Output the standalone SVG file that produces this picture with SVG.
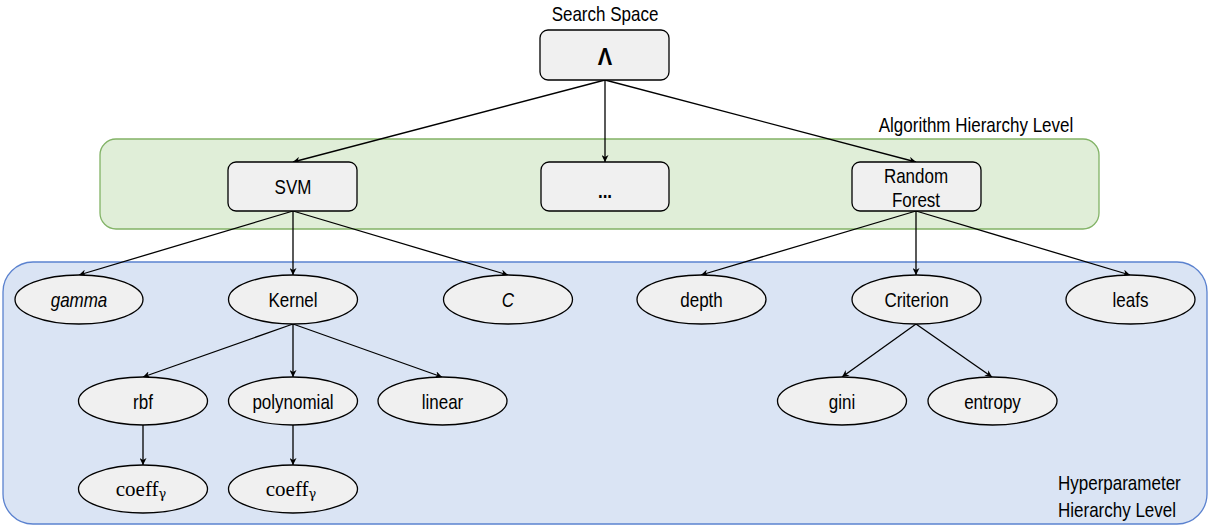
<svg xmlns="http://www.w3.org/2000/svg" width="1212" height="527" viewBox="0 0 1212 527">
<defs>
<marker id="arr" viewBox="0 0 10 10" refX="10" refY="5" markerWidth="7" markerHeight="7" markerUnits="userSpaceOnUse" orient="auto">
<path d="M0,0 L10,5 L0,10 L3,5 Z" fill="#000"/>
</marker>
<style>
text{font-family:"Liberation Sans",Arial,sans-serif;font-size:20px;fill:#000}
.box{fill:#f0f0f0;stroke:#000;stroke-width:1.3}
.ell{fill:#f0f0f0;stroke:#000;stroke-width:1.3}
.lbl{text-anchor:middle;dominant-baseline:central}
.left{text-anchor:start;dominant-baseline:central}
.edge{stroke:#000;stroke-width:1.3;fill:none;marker-end:url(#arr)}
.math{font-family:"Liberation Serif","Times New Roman",serif;font-size:21px}
.sub{font-family:"DejaVu Serif","Liberation Serif",serif;font-size:13px}
</style>
</defs>
<rect id="algo-level" x="100" y="139" width="999" height="90" rx="16" fill="#e0eed8" stroke="#82b366" stroke-width="1.3"/>
<rect id="hyper-level" x="3" y="262" width="1204" height="262" rx="30" fill="#dae4f4" stroke="#5b82cf" stroke-width="1.3"/>
<text class="lbl" transform="translate(605,14) scale(0.85,1)">Search Space</text>
<text class="lbl" transform="translate(976,124.5) scale(0.85,1)">Algorithm Hierarchy Level</text>
<text class="left" transform="translate(1058,483) scale(0.85,1)">Hyperparameter</text>
<text class="left" transform="translate(1058,510) scale(0.85,1)">Hierarchy Level</text>
<g id="connectors">
<line class="edge" x1="605" y1="80" x2="293" y2="162"/>
<line class="edge" x1="605" y1="80" x2="605" y2="162"/>
<line class="edge" x1="605" y1="80" x2="916" y2="162"/>
<line class="edge" x1="293" y1="211" x2="79" y2="275"/>
<line class="edge" x1="293" y1="211" x2="293" y2="275"/>
<line class="edge" x1="293" y1="211" x2="508" y2="275"/>
<line class="edge" x1="916" y1="211" x2="701" y2="275"/>
<line class="edge" x1="916" y1="211" x2="916" y2="275"/>
<line class="edge" x1="916" y1="211" x2="1130" y2="275"/>
<line class="edge" x1="293" y1="324" x2="143" y2="377"/>
<line class="edge" x1="293" y1="324" x2="293" y2="377"/>
<line class="edge" x1="293" y1="324" x2="442" y2="377"/>
<line class="edge" x1="916" y1="324" x2="842" y2="377"/>
<line class="edge" x1="916" y1="324" x2="992" y2="377"/>
<line class="edge" x1="143" y1="425" x2="143" y2="465"/>
<line class="edge" x1="293" y1="425" x2="293" y2="465"/>
</g>
<g id="search-space"><rect class="box" x="540" y="30" width="129" height="50" rx="8"/><text class="lbl" transform="translate(605,57) scale(0.9,1)" style="font-size:24px;font-weight:bold">Λ</text></g>
<g id="svm"><rect class="box" x="228" y="162" width="129" height="49" rx="8"/><text class="lbl" transform="translate(293,186.5) scale(0.85,1)">SVM</text></g>
<g id="dots"><rect class="box" x="541" y="162" width="128" height="49" rx="8"/><text class="lbl" transform="translate(605,191) scale(0.85,1)" style="font-weight:bold">...</text></g>
<g id="rf"><rect class="box" x="852" y="162" width="129" height="49" rx="8"/><text class="lbl" transform="translate(916,175.5) scale(0.85,1)">Random</text><text class="lbl" transform="translate(916,200) scale(0.85,1)">Forest</text></g>
<g id="gamma"><ellipse class="ell" cx="79" cy="299.5" rx="64" ry="24.5"/><text class="lbl" transform="translate(79,300) scale(0.85,1)" font-style="italic">gamma</text></g>
<g id="kernel"><ellipse class="ell" cx="293" cy="299.5" rx="64.5" ry="24.5"/><text class="lbl" transform="translate(293,300) scale(0.85,1)">Kernel</text></g>
<g id="c"><ellipse class="ell" cx="508" cy="299.5" rx="64.5" ry="24.5"/><text class="lbl" transform="translate(508,300) scale(0.85,1)" font-style="italic">C</text></g>
<g id="depth"><ellipse class="ell" cx="701.5" cy="299.5" rx="64.5" ry="24.5"/><text class="lbl" transform="translate(701.5,300) scale(0.85,1)">depth</text></g>
<g id="criterion"><ellipse class="ell" cx="916.5" cy="299.5" rx="64.5" ry="24.5"/><text class="lbl" transform="translate(916.5,300) scale(0.85,1)">Criterion</text></g>
<g id="leafs"><ellipse class="ell" cx="1130.5" cy="299.5" rx="64.5" ry="24.5"/><text class="lbl" transform="translate(1130.5,300) scale(0.85,1)">leafs</text></g>
<g id="rbf"><ellipse class="ell" cx="143" cy="401" rx="64.5" ry="24"/><text class="lbl" transform="translate(143,401.5) scale(0.85,1)">rbf</text></g>
<g id="polynomial"><ellipse class="ell" cx="293" cy="401" rx="64.5" ry="24"/><text class="lbl" transform="translate(293,401.5) scale(0.85,1)">polynomial</text></g>
<g id="linear"><ellipse class="ell" cx="442.5" cy="401" rx="64.5" ry="24"/><text class="lbl" transform="translate(442.5,401.5) scale(0.85,1)">linear</text></g>
<g id="gini"><ellipse class="ell" cx="842" cy="401" rx="64.5" ry="24"/><text class="lbl" transform="translate(842,401.5) scale(0.85,1)">gini</text></g>
<g id="entropy"><ellipse class="ell" cx="992.5" cy="401" rx="64.5" ry="24"/><text class="lbl" transform="translate(992.5,401.5) scale(0.85,1)">entropy</text></g>
<g id="coeff1"><ellipse class="ell" cx="143" cy="489" rx="64.5" ry="24"/><text x="141" y="489" class="lbl math">coeff<tspan class="sub" dy="4">γ</tspan></text></g>
<g id="coeff2"><ellipse class="ell" cx="293" cy="489" rx="64.5" ry="24"/><text x="291" y="489" class="lbl math">coeff<tspan class="sub" dy="4">γ</tspan></text></g>
</svg>
